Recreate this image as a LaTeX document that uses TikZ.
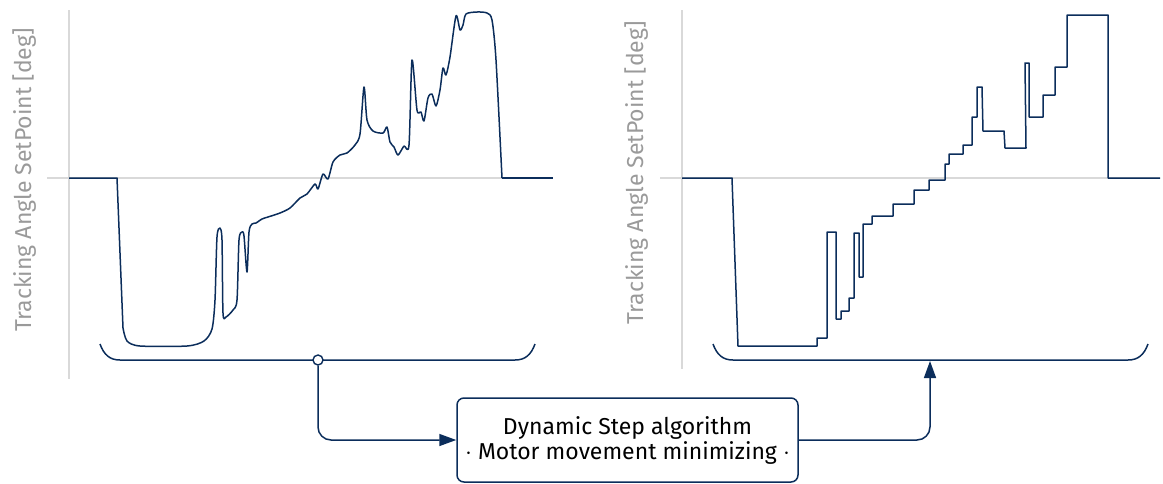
\documentclass[tikz,border=0pt]{standalone}
\usepackage{fontspec}
\setmainfont{Fira Sans}
\usetikzlibrary{arrows.meta}
\definecolor{navy}{HTML}{0B2D5B}
\definecolor{axisgray}{HTML}{D9D9D9}
\definecolor{labelgray}{HTML}{9A9A9A}
\tikzset{
  axisline/.style={draw=axisgray, line width=1.6pt},
  curve/.style={draw=navy, line width=1.5pt, line join=round},
  bracket/.style={draw=navy, line width=1.5pt},
  connector/.style={draw=navy, line width=1.5pt, rounded corners=13pt, -{Triangle[length=17pt,width=12pt]}},
  ylabel/.style={text=labelgray, rotate=90, font=\fontsize{23}{27}\selectfont},
  algobox/.style={draw=navy, line width=1.5pt, rounded corners=7pt, minimum width=341pt, minimum height=84pt, align=center, font=\fontsize{23}{27}\selectfont, text=black},
  tapdot/.style={circle, draw=navy, fill=white, line width=1.4pt, minimum size=10pt, inner sep=0pt}
}
\begin{document}
\begin{tikzpicture}[x=1pt,y=-1pt]
\useasboundingbox (0,0) rectangle (1163,483);
% axes left
\draw[axisline] (69,10) -- (69,379);
\draw[axisline] (47,178) -- (553,178);
% axes right
\draw[axisline] (682,10) -- (682,369);
\draw[axisline] (660,178) -- (1160,178);
% labels
\node[ylabel] (yl1) at (25,180) {Tracking Angle SetPoint [deg]};
\node[ylabel] (yl2) at (637,173) {Tracking Angle SetPoint [deg]};
% left curve
\draw[curve] (69,178) -- (117,178) -- (123,328);
\draw[curve] plot[smooth, tension=0.45] coordinates {
 (123,328) (127,341) (140,346) (187,346) (204,341) (212,329) (215,300) (217,237) (220,228) (222,240) (223,313) (226,317) (233,310) (237,300) (239,240) (242,232) (244,236) (247,272) (249,232) (252,224) (256,223) (262,219) (268,217) (280,213) (290,208) (300,198) (307,194) (315,184) (318,189) (323,174) (328,179) (333,162) (340,155) (347,153) (355,145) (360,134) (364,87) (367,120) (373,131) (383,133) (387,127) (390,142) (394,147) (398,155) (404,146) (409,145) (412,60) (417,110) (421,112) (424,121) (428,98) (432,94) (436,106) (440,90) (443,68) (446,75) (450,57) (456,16) (460,30) (463,25) (466,14) (477,12) (487,13) (492,20) (496,60) (502,178)};
\draw[curve] (502,178) -- (553,178);
% right curve (steps)
\draw[curve] (682,178) -- (732,178) -- (738,346) -- (817,346) -- (817,338) -- (827,338) -- (827,232) -- (836,232) -- (836,319) -- (841,319) -- (841,311) -- (849,311) -- (849,298) -- (854,298) -- (854,233) -- (859,233) -- (859,277) -- (863,277) -- (863,224) -- (872,224) -- (872,216) -- (893,216) -- (893,204) -- (914,204) -- (914,190) -- (929,190) -- (929,180) -- (945,180) -- (945,164) -- (949,164) -- (949,154) -- (963,154) -- (963,145) -- (972,145) -- (972,117) -- (977,117) -- (977,87) -- (982,87) -- (983,131) -- (1004,131) -- (1005,148) -- (1026,148) -- (1025,63) -- (1029,63) -- (1029,117) -- (1043,117) -- (1043,95) -- (1055,95) -- (1055,67) -- (1067,67) -- (1067,15) -- (1108,15) -- (1108,178) -- (1160,178);
% brackets
\draw[bracket] (100,344) .. controls (104,355) and (110,360) .. (120,360) -- (515,360) .. controls (525,360) and (531,355) .. (535,344);
\draw[bracket] (713,344) .. controls (717,355) and (723,360) .. (733,360) -- (1128,360) .. controls (1138,360) and (1144,355) .. (1148,344);
% algorithm box
\node[algobox] (algo) at (627.5,440) {Dynamic Step algorithm\\[-2pt]$\cdot$ Motor movement minimizing $\cdot$};
% connectors
\node[tapdot] (tap) at (318,360) {};
\coordinate (tip) at (930,361);
\draw[connector] (tap.south) |- (algo.west);
\draw[connector] (algo.east) -| (tip);
\end{tikzpicture}
\end{document}
